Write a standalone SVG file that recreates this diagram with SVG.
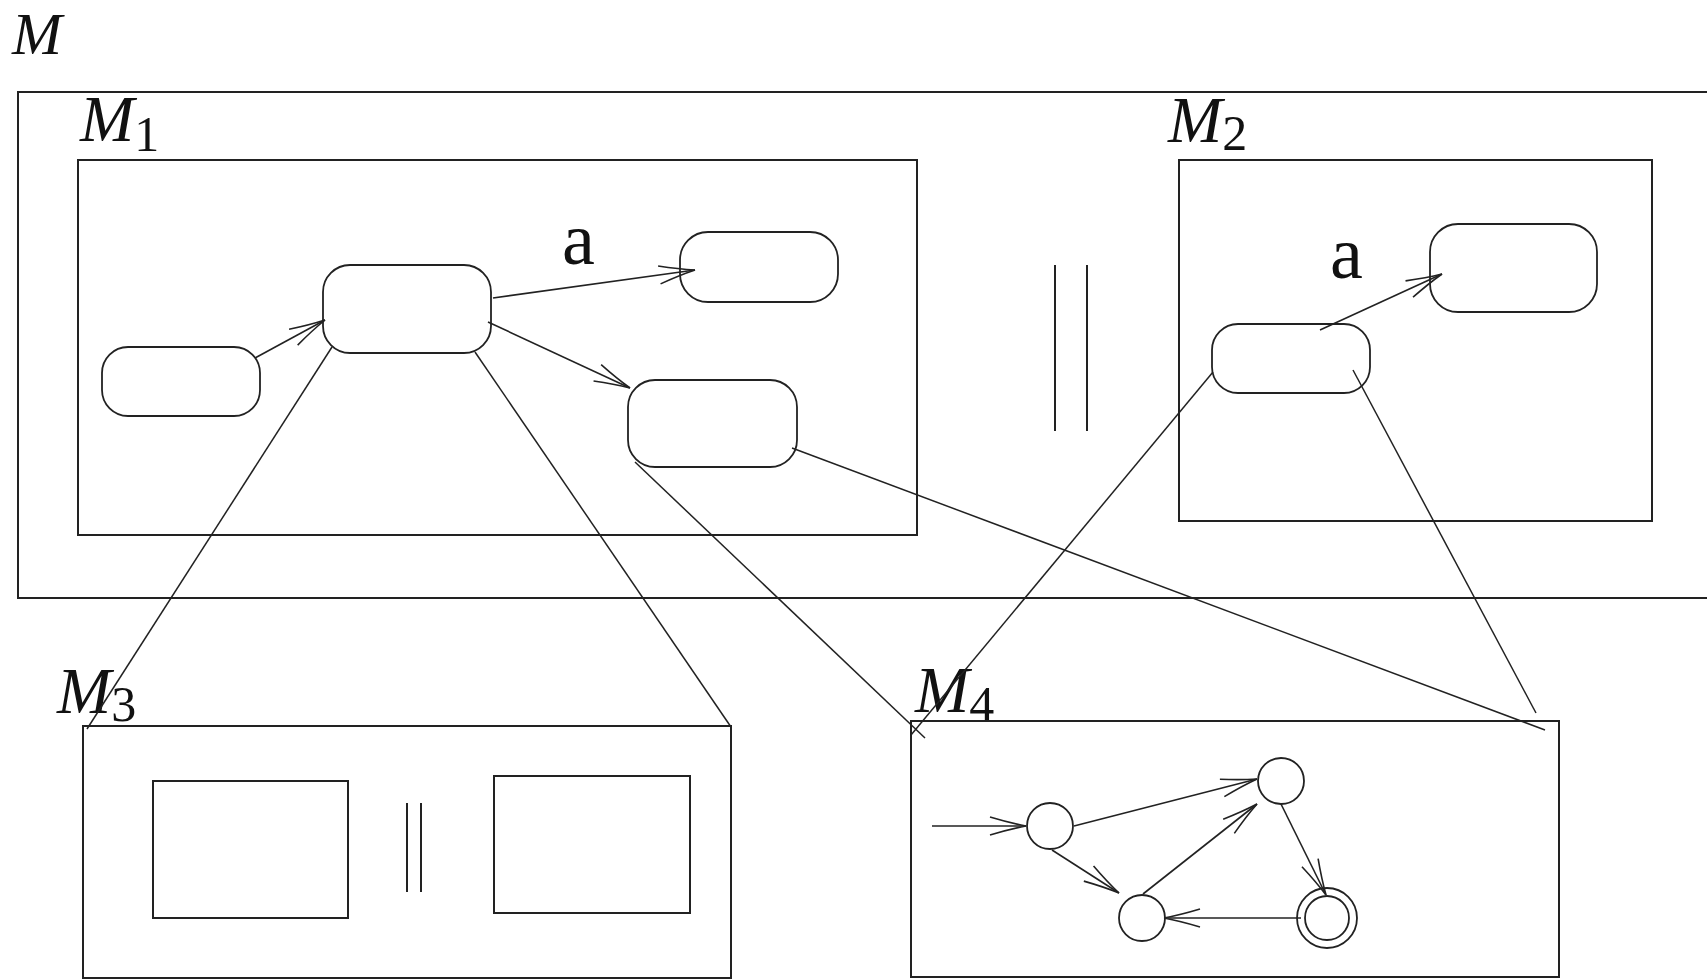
<svg xmlns="http://www.w3.org/2000/svg" width="1707" height="980" viewBox="0 0 1707 980">
  <style>
    .box { fill: none; stroke: #222; stroke-width: 2; }
    .state { fill: none; stroke: #222; stroke-width: 1.8; }
    .edge { fill: none; stroke: #222; stroke-width: 1.6; }
    .link { fill: none; stroke: #222; stroke-width: 1.5; }
    .name { font-family: "Liberation Serif", "DejaVu Serif", serif; font-style: italic; font-size: 65px; fill: #111; }
    .top { font-size: 60px; }
    .sub { font-family: "Liberation Serif", "DejaVu Serif", serif; font-style: normal; font-size: 50px; fill: #111; }
    .lbl { font-family: "Liberation Serif", "DejaVu Serif", serif; font-size: 74px; fill: #111; }
  </style>
  <defs>
    <!-- open two-barb arrowhead, tip at the path end -->
    <marker id="arr" markerUnits="userSpaceOnUse" markerWidth="44" markerHeight="24" viewBox="-40 -12 44 24" refX="0" refY="0" orient="auto" overflow="visible">
      <path d="M-36,-9 Q-16,-3 0,0 M-36,9 Q-16,3 0,0" fill="none" stroke="#222" stroke-width="1.6"/>
    </marker>
  </defs>

  <rect width="1707" height="980" fill="#fff"/>

  <!-- outer machine M -->
  <g id="M">
    <text class="name top" x="12" y="54">M</text>
    <rect class="box" x="18" y="92" width="1710" height="506"/>
  </g>

  <!-- component M1 -->
  <g id="M1">
    <text class="name" x="80" y="141">M<tspan class="sub" dy="10">1</tspan></text>
    <rect class="box" x="78" y="160" width="839" height="375"/>
    <rect id="s1" class="state" x="102" y="347" width="158" height="69" rx="26" ry="26"/>
    <rect id="s2" class="state" x="323" y="265" width="168" height="88" rx="27" ry="27"/>
    <rect id="s3" class="state" x="680" y="232" width="158" height="70" rx="28" ry="28"/>
    <rect id="s4" class="state" x="628" y="380" width="169" height="87" rx="27" ry="27"/>
    <text class="lbl" x="562" y="264">a</text>
  </g>

  <!-- parallel composition bars -->
  <g id="par">
    <line class="box" x1="1055" y1="265" x2="1055" y2="431"/>
    <line class="box" x1="1087" y1="265" x2="1087" y2="431"/>
  </g>

  <!-- component M2 -->
  <g id="M2">
    <text class="name" x="1168" y="142">M<tspan class="sub" dy="8">2</tspan></text>
    <rect class="box" x="1179" y="160" width="473" height="361"/>
    <rect id="t1" class="state" x="1212" y="324" width="158" height="69" rx="26" ry="26"/>
    <rect id="t2" class="state" x="1430" y="224" width="167" height="88" rx="28" ry="28"/>
    <text class="lbl" x="1330" y="278">a</text>
  </g>

  <!-- component M3 -->
  <g id="M3">
    <text class="name" x="57" y="713">M<tspan class="sub" dy="8">3</tspan></text>
    <rect class="box" x="83" y="726" width="648" height="252"/>
    <rect class="box" x="153" y="781" width="195" height="137"/>
    <rect class="box" x="494" y="776" width="196" height="137"/>
    <line class="box" x1="407" y1="803" x2="407" y2="892"/>
    <line class="box" x1="421" y1="803" x2="421" y2="892"/>
  </g>

  <!-- component M4: small automaton -->
  <g id="M4">
    <text class="name" x="915" y="712">M<tspan class="sub" dy="9">4</tspan></text>
    <rect class="box" x="911" y="721" width="648" height="256"/>
    <circle id="q0" class="state" cx="1050" cy="826" r="23"/>
    <circle id="q1" class="state" cx="1281" cy="781" r="23"/>
    <circle id="q2" class="state" cx="1142" cy="918" r="23"/>
    <circle id="q3" class="state" cx="1327" cy="918" r="30"/>
    <circle class="state" cx="1327" cy="918" r="22"/>
  </g>

  <!-- transitions and refinement links -->
  <g id="connectors">
    <!-- M1 transitions -->
    <line class="edge" x1="255" y1="358" x2="325" y2="320" marker-end="url(#arr)"/>
    <line class="edge" x1="493" y1="298" x2="695" y2="270" marker-end="url(#arr)"/>
    <line class="edge" x1="488" y1="322" x2="630" y2="388" marker-end="url(#arr)"/>
    <!-- M2 transition -->
    <line class="edge" x1="1320" y1="330" x2="1442" y2="274" marker-end="url(#arr)"/>
    <!-- M4 transitions -->
    <line class="edge" x1="932" y1="826" x2="1026" y2="826" marker-end="url(#arr)"/>
    <line class="edge" x1="1074" y1="826" x2="1257" y2="779" marker-end="url(#arr)"/>
    <line class="edge" x1="1052" y1="850" x2="1119" y2="893" marker-end="url(#arr)"/>
    <line class="edge" x1="1143" y1="894" x2="1257" y2="804" marker-end="url(#arr)"/>
    <line class="edge" x1="1281" y1="804" x2="1326" y2="895" marker-end="url(#arr)"/>
    <line class="edge" x1="1301" y1="918" x2="1164" y2="918" marker-end="url(#arr)"/>
    <!-- refinement links -->
    <line class="link" x1="332" y1="347" x2="87" y2="729"/>
    <line class="link" x1="475" y1="352" x2="731" y2="727"/>
    <line class="link" x1="635" y1="462" x2="925" y2="738"/>
    <line class="link" x1="792" y1="448" x2="1545" y2="730"/>
    <line class="link" x1="1213" y1="372" x2="911" y2="735"/>
    <line class="link" x1="1353" y1="370" x2="1536" y2="713"/>
  </g>
</svg>
